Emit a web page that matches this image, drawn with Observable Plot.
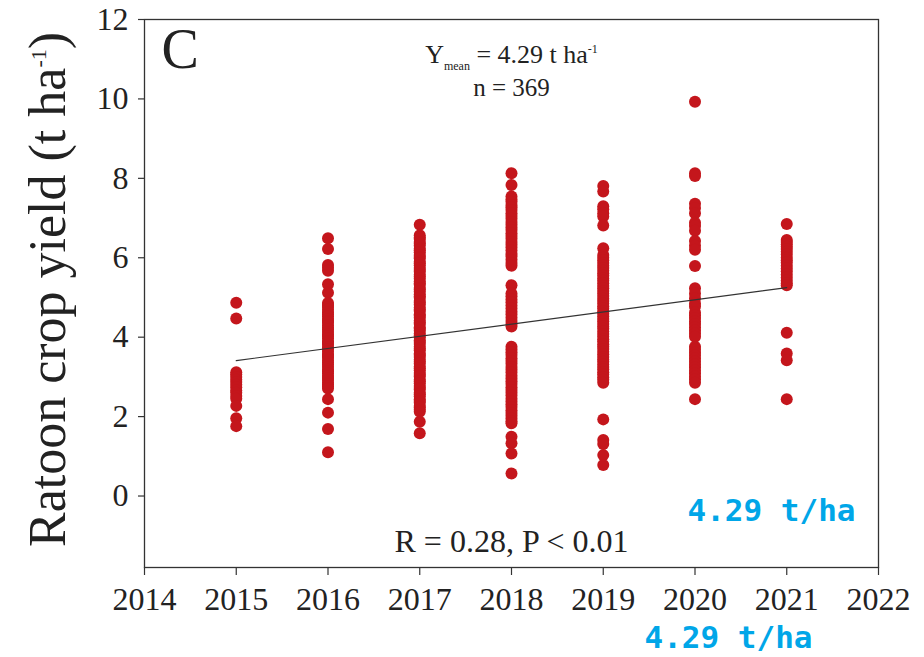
<!DOCTYPE html>
<html><head><meta charset="utf-8">
<script src="https://cdn.jsdelivr.net/npm/d3@7"></script>
<script src="https://cdn.jsdelivr.net/npm/@observablehq/plot@0.6"></script>
<style>body{margin:0;background:#fff}</style>
</head><body><div id="chart"></div>
<script>
// ---------- data ----------
const years = [2015, 2016, 2017, 2018, 2019, 2020, 2021];
const yield2015 = [4.87, 4.47, 3.12, 3.06, 3.0, 2.93, 2.87, 2.8, 2.74, 2.66, 2.6, 2.52, 2.45, 2.27, 1.96, 1.76];
const yield2016 = [6.49, 6.22, 5.82, 5.75, 5.67, 5.33, 5.12, 4.86, 4.81, 4.76, 4.7, 4.63, 4.58, 4.53, 4.46, 4.41, 4.37, 4.3, 4.24, 4.2, 4.13, 4.07, 4.03, 3.97, 3.9, 3.86, 3.81, 3.74, 3.7, 3.64, 3.57, 3.53, 3.48, 3.41, 3.36, 3.31, 3.25, 3.18, 3.14, 3.09, 3.02, 2.97, 2.92, 2.85, 2.81, 2.76, 2.71, 2.44, 2.1, 1.69, 1.1];
const yield2017 = [6.83, 6.57, 6.51, 6.47, 6.4, 6.35, 6.31, 6.23, 6.19, 6.14, 6.07, 6.02, 5.98, 5.9, 5.86, 5.81, 5.74, 5.69, 5.65, 5.57, 5.53, 5.48, 5.41, 5.36, 5.32, 5.24, 5.2, 5.15, 5.08, 5.03, 4.99, 4.91, 4.87, 4.82, 4.75, 4.7, 4.66, 4.58, 4.54, 4.49, 4.42, 4.37, 4.33, 4.25, 4.21, 4.16, 4.09, 4.04, 4.0, 3.92, 3.88, 3.83, 3.76, 3.71, 3.67, 3.59, 3.55, 3.5, 3.43, 3.38, 3.34, 3.26, 3.22, 3.17, 3.1, 3.05, 3.01, 2.93, 2.89, 2.84, 2.77, 2.72, 2.68, 2.6, 2.56, 2.51, 2.44, 2.39, 2.35, 2.27, 2.23, 2.17, 2.12, 1.87, 1.58];
const yield2018 = [8.13, 7.83, 7.54, 7.47, 7.41, 7.33, 7.27, 7.2, 7.12, 7.05, 6.98, 6.9, 6.83, 6.76, 6.7, 6.62, 6.55, 6.48, 6.4, 6.33, 6.26, 6.18, 6.1, 6.03, 5.95, 5.87, 5.8, 5.31, 5.1, 5.03, 4.95, 4.88, 4.8, 4.72, 4.64, 4.57, 4.49, 4.41, 4.33, 4.27, 3.76, 3.69, 3.62, 3.55, 3.47, 3.4, 3.33, 3.25, 3.18, 3.11, 3.03, 2.96, 2.89, 2.82, 2.74, 2.67, 2.6, 2.53, 2.45, 2.38, 2.31, 2.24, 2.16, 2.09, 2.02, 1.95, 1.88, 1.83, 1.49, 1.33, 1.07, 0.57];
const yield2019 = [7.81, 7.67, 7.3, 7.22, 7.12, 7.04, 6.81, 6.24, 6.07, 6.0, 5.94, 5.87, 5.8, 5.74, 5.67, 5.61, 5.55, 5.48, 5.42, 5.36, 5.29, 5.23, 5.16, 5.1, 5.04, 4.97, 4.91, 4.85, 4.78, 4.72, 4.65, 4.59, 4.53, 4.46, 4.4, 4.33, 4.27, 4.21, 4.14, 4.08, 4.02, 3.95, 3.89, 3.82, 3.76, 3.7, 3.63, 3.57, 3.5, 3.44, 3.38, 3.31, 3.25, 3.19, 3.12, 3.06, 2.99, 2.93, 2.85, 1.93, 1.41, 1.31, 1.03, 0.78];
const yield2020 = [9.93, 8.13, 8.06, 7.36, 7.25, 7.12, 6.88, 6.8, 6.68, 6.42, 6.3, 6.2, 5.79, 5.23, 5.1, 4.98, 4.85, 4.77, 4.62, 4.55, 4.48, 4.4, 4.33, 4.25, 4.17, 4.09, 4.01, 3.76, 3.69, 3.61, 3.54, 3.46, 3.39, 3.31, 3.24, 3.16, 3.09, 3.01, 2.94, 2.85, 2.44];
const yield2021 = [6.85, 6.45, 6.4, 6.34, 6.28, 6.22, 6.15, 6.08, 6.0, 5.94, 5.88, 5.8, 5.73, 5.66, 5.58, 5.5, 5.43, 5.36, 5.31, 4.11, 3.59, 3.42, 2.44];
const trendYears = [2015, 2021];
const trendValues = [3.41, 5.25];
const xTicks = [2014, 2015, 2016, 2017, 2018, 2019, 2020, 2021, 2022];
const yTicks = [0, 2, 4, 6, 8, 10, 12];
const panelLabel = "C";
const yLabel = [["Ratoon crop yield (t ha", ""], ["-1", "sup"], [")", ""]];
const meanText = [["Y", ""], ["mean", "sub"], [" = 4.29 t ha", ""], ["-1", "sup"]];
const countText = "n = 369";
const statText = "R = 0.28, P < 0.01";
const noteText = "4.29 t/ha";

// ---------- build ----------
const seriesByYear = [yield2015, yield2016, yield2017, yield2018, yield2019, yield2020, yield2021];
const points = years.flatMap((yr, i) => seriesByYear[i].map(v => ({year: yr, value: v})));
const trend = trendYears.map((yr, i) => ({year: yr, value: trendValues[i]}));
const plain = segs => segs.map(s => s[0]).join("");

const serif = "'Liberation Serif', 'Times New Roman', serif";
const ink = "#222";
const red = "#c4161c";
const blue = "#00a6e8";

const chart = Plot.plot({
  width: 924, height: 657,
  marginLeft: 144, marginRight: 46, marginTop: 19, marginBottom: 90,
  style: {fontFamily: serif, background: "white", color: ink, overflow: "visible"},
  x: {type: "linear", domain: [2014, 2022]},
  y: {domain: [-1.8, 12]},
  marks: [
    Plot.dot(points, {x: "year", y: "value", r: 6, fill: red, stroke: "none"}),
    Plot.line(trend, {x: "year", y: "value", stroke: "#333", strokeWidth: 1.2}),
    Plot.frame({stroke: "#333", strokeWidth: 1.3}),
    Plot.axisX(xTicks, {tickSize: 8, tickPadding: 12, fontSize: 32, tickFormat: d => String(d), stroke: "#333", strokeWidth: 1.2, fill: ink, label: null}),
    Plot.axisY(yTicks, {tickSize: 6, tickPadding: 10, fontSize: 32, tickFormat: d => String(d), stroke: "#333", strokeWidth: 1.2, fill: ink, label: null}),
    Plot.text([plain(yLabel)], {frameAnchor: "left", rotate: -90, lineAnchor: "bottom", textAnchor: "middle", dx: -80, dy: -4, fontSize: 52, fill: ink}),
    Plot.text([panelLabel], {frameAnchor: "top-left", textAnchor: "start", lineAnchor: "bottom", dx: 17, dy: 48, fontSize: 56, fill: ink}),
    Plot.text([plain(meanText)], {frameAnchor: "top", lineAnchor: "bottom", dy: 43, fontSize: 26, fill: ink}),
    Plot.text([countText], {frameAnchor: "top", lineAnchor: "bottom", dy: 76, fontSize: 25, fill: ink}),
    Plot.text([statText], {frameAnchor: "bottom", lineAnchor: "bottom", dy: -16, fontSize: 32, fill: ink}),
    Plot.text([noteText], {frameAnchor: "bottom-right", textAnchor: "end", lineAnchor: "bottom", dx: -23, dy: -47, fontSize: 31, fontWeight: "bold", fontFamily: "'DejaVu Sans Mono', monospace", fill: blue}),
    Plot.text([noteText], {frameAnchor: "bottom-right", textAnchor: "end", lineAnchor: "bottom", dx: -66, dy: 80, fontSize: 31, fontWeight: "bold", fontFamily: "'DejaVu Sans Mono', monospace", fill: blue})
  ]
});

// rich text (sub/superscripts) as tspans
function richify(svg, segs, fs, ratio) {
  const target = plain(segs);
  for (const el of svg.querySelectorAll("text")) {
    if (el.textContent !== target || el.querySelector("tspan")) continue;
    el.textContent = "";
    let shift = 0;
    segs.forEach(([s, kind], i) => {
      const t = document.createElementNS("http://www.w3.org/2000/svg", "tspan");
      const want = kind === "sup" ? -0.36 * fs : kind === "sub" ? 0.3 * fs : 0;
      if (i > 0) t.setAttribute("dy", want - shift);
      shift = want;
      if (kind) t.setAttribute("font-size", Math.round(fs * ratio));
      t.textContent = s;
      el.appendChild(t);
    });
  }
}
richify(chart, yLabel, 52, 0.42);
richify(chart, meanText, 26, 0.48);
document.getElementById("chart").appendChild(chart);
</script>
</body></html>
